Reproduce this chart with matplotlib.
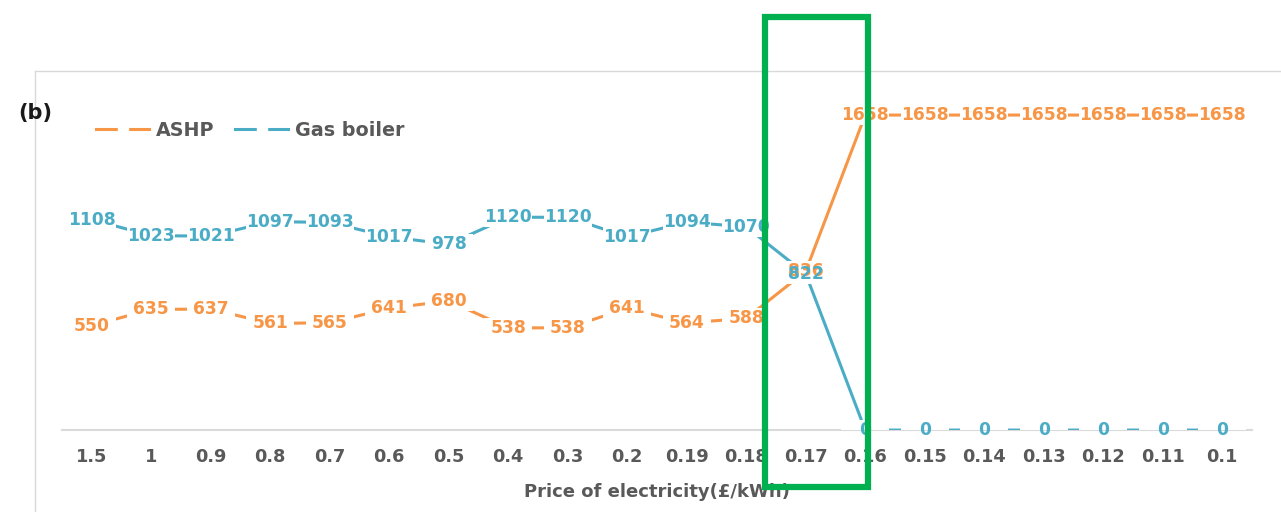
import matplotlib.pyplot as plt
from matplotlib.patches import Rectangle
from matplotlib.lines import Line2D
from matplotlib.transforms import ScaledTranslation

prices = ["1.5", "1", "0.9", "0.8", "0.7", "0.6", "0.5", "0.4", "0.3", "0.2",
          "0.19", "0.18", "0.17", "0.16", "0.15", "0.14", "0.13", "0.12", "0.11", "0.1"]
ashp = [550, 635, 637, 561, 565, 641, 680, 538, 538, 641,
        564, 588, 836, 1658, 1658, 1658, 1658, 1658, 1658, 1658]
gas_boiler = [1108, 1023, 1021, 1097, 1093, 1017, 978, 1120, 1120, 1017,
              1094, 1070, 822, 0, 0, 0, 0, 0, 0, 0]

orange = "#F79646"
blue = "#4BACC6"
grey_text = "#595959"

plt.rcParams["font.family"] = "DejaVu Sans"

fig = plt.figure(figsize=(12.81, 5.12), dpi=100)
ax = fig.add_axes([62 / 1281, 0.160, 1190 / 1281, 0.668])

x = list(range(len(prices)))
ax.plot(x, ashp, color=orange, lw=2.2, zorder=3)
ax.plot(x, gas_boiler, color=blue, lw=2.2, zorder=3)

# value labels: fixed-size white boxes under the text hide the line near each point
for series, col, z in [(ashp, orange, 5), (gas_boiler, blue, 6)]:
    for xi, v in zip(x, series):
        tr = fig.dpi_scale_trans + ScaledTranslation(xi, v, ax.transData)
        ax.add_patch(Rectangle((-0.24, -0.10), 0.48, 0.20, transform=tr,
                               fc="white", ec="none", zorder=4))
        ax.text(xi, v, str(v), color=col, fontsize=12.3, fontweight="bold",
                ha="center", va="center", zorder=z)

ax.set_xlim(-0.5, len(prices) - 0.5)
ax.set_ylim(0, 1800)
ax.set_yticks([])
ax.set_xticks(x)
ax.set_xticklabels(prices, fontsize=12.8, fontweight="bold", color=grey_text)
ax.tick_params(axis="x", length=0, pad=13)
for s in ["top", "right", "left"]:
    ax.spines[s].set_visible(False)
ax.spines["bottom"].set_color("#D9D9D9")
ax.spines["bottom"].set_linewidth(1.5)
ax.spines["bottom"].set_zorder(2)
ax.set_xlabel("Price of electricity(£/kWh)", fontsize=13, fontweight="bold",
              color=grey_text, labelpad=12)

handles = [Line2D([], [], color=orange, lw=2.2, marker="s", ms=7,
                  mfc="white", mec="white"),
           Line2D([], [], color=blue, lw=2.2, marker="s", ms=7,
                  mfc="white", mec="white")]
fig.legend(handles, ["ASHP", "Gas boiler"], loc="center left",
           bbox_to_anchor=(79 / 1281, 1 - 130 / 512), ncol=2, frameon=False,
           handlelength=2.75, handletextpad=0.35, columnspacing=1.1,
           prop=dict(size=13.8, weight="bold"), labelcolor=grey_text)

fig.text(18 / 1281, 1 - 113 / 512, "(b)", fontsize=15, fontweight="bold",
         color="#1a1a1a", ha="left", va="center")

# light frame around the chart area
fig.add_artist(Line2D([35 / 1281, 35 / 1281], [0, 1 - 71 / 512],
                      transform=fig.transFigure, color="#D9D9D9", lw=1))
fig.add_artist(Line2D([35 / 1281, 1], [1 - 71 / 512, 1 - 71 / 512],
                      transform=fig.transFigure, color="#D9D9D9", lw=1))

# green highlight box around the 0.17 switch-over
fig.add_artist(Rectangle((765 / 1281, 1 - 487 / 512), 103 / 1281, 470 / 512,
                         transform=fig.transFigure, fill=False,
                         ec="#00B050", lw=4.5, zorder=10))

fig.savefig("out.png", dpi=100)
